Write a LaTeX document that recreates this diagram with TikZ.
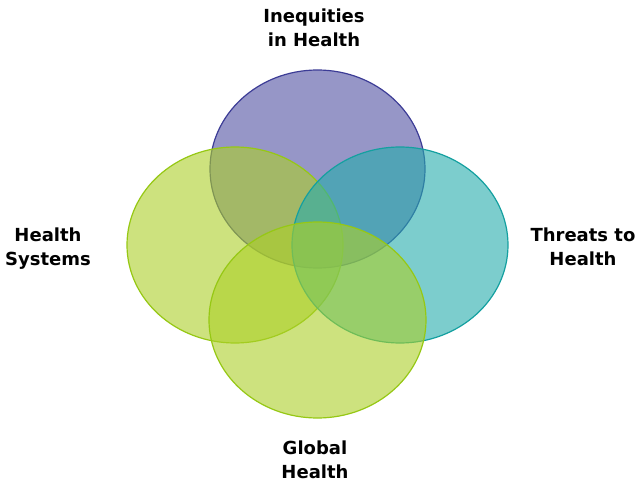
\documentclass[tikz,border=0pt]{standalone}
\usepackage{fontspec}
\setmainfont{DejaVu Sans}
\begin{document}
\begin{tikzpicture}[x=1pt,y=-1pt,
  venn/.style={line width=1.2pt, fill opacity=0.6},
  lbl/.style={font=\bfseries\fontsize{18}{24}\selectfont, align=center, inner sep=0pt, text=black}]
\definecolor{pfill}{RGB}{80,80,163}
\definecolor{pline}{RGB}{60,60,150}
\definecolor{tfill}{RGB}{38,172,172}
\definecolor{tline}{RGB}{20,160,160}
\definecolor{gfill}{RGB}{172,208,40}
\definecolor{gline}{RGB}{150,200,20}
\useasboundingbox[fill=white] (0,0) rectangle (638,487);
\path[venn, fill=pfill, draw=pline] (317.5,169) ellipse [x radius=107.5, y radius=99];
\path[venn, fill=gfill, draw=gline] (235,245) ellipse [x radius=108, y radius=98];
\path[venn, fill=tfill, draw=tline] (400,245) ellipse [x radius=108, y radius=98];
\path[venn, fill=gfill, draw=gline] (317.5,320) ellipse [x radius=108.5, y radius=98];
\node[lbl] (ineq) at (314,28) {Inequities\\in Health};
\node[lbl] (sys) at (48,249) {Health\\Systems};
\node[lbl] (thr) at (583,247) {Threats to\\Health};
\node[lbl] (glob) at (315,460) {Global\\Health};
\end{tikzpicture}
\end{document}
